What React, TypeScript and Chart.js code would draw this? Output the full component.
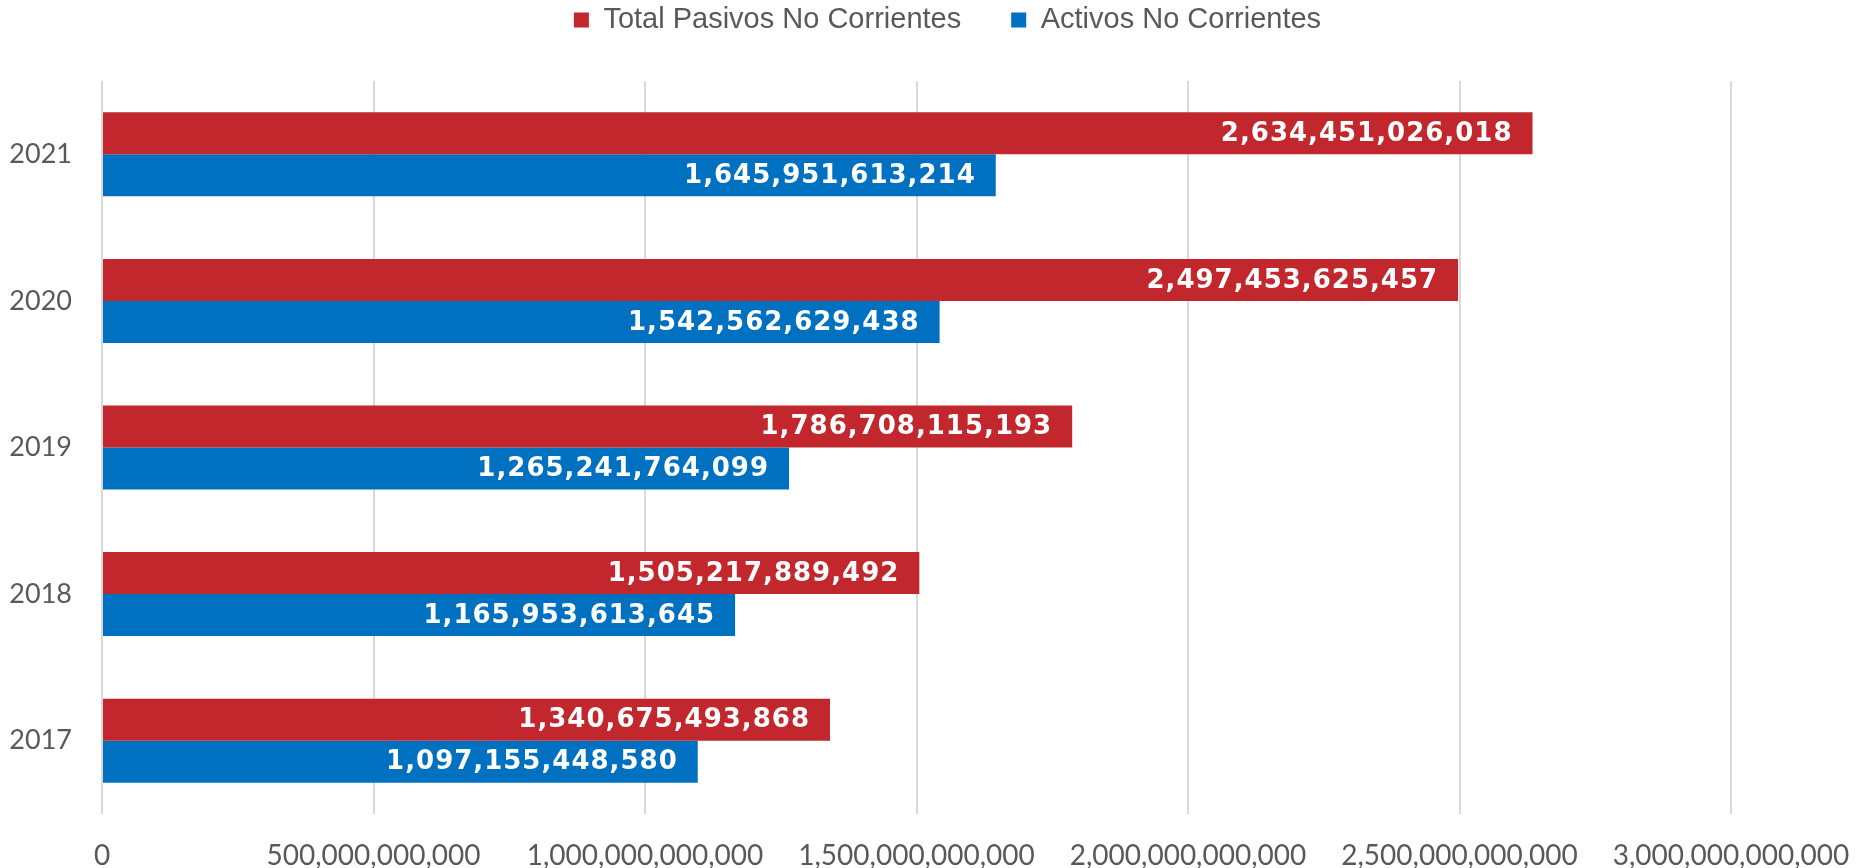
import React, { useEffect, useRef } from "react";
import { Chart, registerables } from "chart.js";

Chart.register(...registerables);

const categories = ["2021", "2020", "2019", "2018", "2017"];
const pasivosNoCorrientes = [2634451026018, 2497453625457, 1786708115193, 1505217889492, 1340675493868];
const activosNoCorrientes = [1645951613214, 1542562629438, 1265241764099, 1165953613645, 1097155448580];
const seriesNames = ["Total Pasivos No Corrientes", "Activos No Corrientes"];
const xTicks = [0, 500000000000, 1000000000000, 1500000000000, 2000000000000, 2500000000000, 3000000000000];

const fmt = (v: number) => v.toLocaleString("en-US");

const labelPlugin = {
  id: "barLabels",
  afterDatasetsDraw(chart: any) {
    const ctx = chart.ctx;
    ctx.save();
    ctx.font = "bold 26px 'DejaVu Sans'";
    try { (ctx as any).letterSpacing = "1px"; } catch (e) {}
    ctx.fillStyle = "#ffffff";
    ctx.textAlign = "right";
    ctx.textBaseline = "middle";
    chart.data.datasets.forEach((ds: any, di: number) => {
      const meta = chart.getDatasetMeta(di);
      meta.data.forEach((el: any, i: number) => {
        ctx.fillText(fmt(ds.data[i]), el.x - 20, el.y + 1);
      });
    });
    ctx.restore();
  },
};

const legendPlacer = {
  id: "legendPlacer",
  beforeLayout(chart: any) {
    const lg = chart.legend;
    if (lg && !lg.__wrapped) {
      const orig = lg.fit.bind(lg);
      lg.fit = () => { orig(); lg.height = 81; };
      lg.__wrapped = true;
    }
  },
  afterLayout(chart: any) {
    const lg = chart.legend;
    if (!lg) return;
    lg.left = 0;
    lg.right = 1895;
    lg.width = 1895;
    lg.top = 5.5 - 50;
    lg.bottom = lg.top + 81;
  },
};

export default function App() {
  const ref = useRef<HTMLCanvasElement | null>(null);
  useEffect(() => {
    document.body.style.margin = "0";
    const chart = new Chart(ref.current as HTMLCanvasElement, {
      type: "bar",
      data: {
        labels: categories,
        datasets: [
          { label: seriesNames[0], data: pasivosNoCorrientes, backgroundColor: "#C1272D", categoryPercentage: 0.573, barPercentage: 1.0 },
          { label: seriesNames[1], data: activosNoCorrientes, backgroundColor: "#0070C0", categoryPercentage: 0.573, barPercentage: 1.0 },
        ],
      },
      options: {
        indexAxis: "y",
        animation: false,
        responsive: false,
        maintainAspectRatio: false,
        layout: { padding: { top: 0, right: 137, bottom: 0, left: 0 } },
        plugins: {
          tooltip: { enabled: false },
          legend: {
            position: "top",
            labels: {
              font: { family: "'Liberation Sans', Arial", size: 29 },
              color: "#595959",
              boxWidth: 15,
              boxHeight: 15,
              padding: 50,
            },
          },
        },
        scales: {
          x: {
            min: 0,
            max: 3000000000000,
            afterBuildTicks: (scale: any) => { scale.ticks = xTicks.map((v) => ({ value: v })); },
            afterFit: (scale: any) => { scale.height = 54; scale.paddingRight = 0; scale.paddingLeft = 0; },
            ticks: {
              callback: (v: any) => fmt(Number(v)),
              font: { family: "Lato", size: 28 },
              color: "#595959",
              padding: 25,
              maxRotation: 0,
              autoSkip: false,
            },
            grid: { color: "#D9D9D9", lineWidth: 2, drawTicks: false },
            border: { display: false },
          },
          y: {
            afterFit: (scale: any) => { scale.width = 102; },
            ticks: {
              font: { family: "Lato", size: 27 },
              color: "#595959",
              padding: 22,
            },
            grid: { display: false },
            border: { display: false },
          },
        },
      },
      plugins: [legendPlacer, labelPlugin],
    } as any);
    return () => chart.destroy();
  }, []);
  return (
    <div style={{ width: 1868, height: 868 }}>
      <canvas ref={ref} width={1868} height={868} style={{ display: "block" }} />
    </div>
  );
}
